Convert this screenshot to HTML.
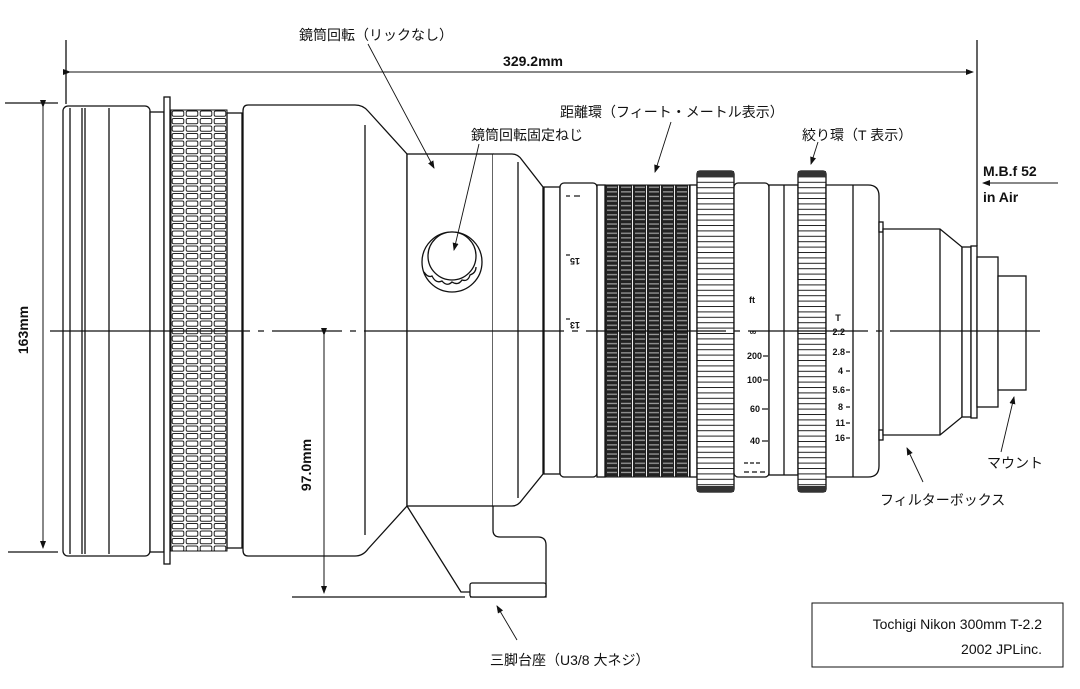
<!DOCTYPE html>
<html><head><meta charset="utf-8"><style>
html,body{margin:0;padding:0;background:#fff}
svg{display:block}
.j{font-family:"Liberation Sans","Noto Sans CJK JP",sans-serif;font-size:14px;fill:#111}
.b{font-family:"Liberation Sans",sans-serif;font-weight:bold;fill:#111}
.s{font-family:"Liberation Sans",sans-serif;font-weight:bold;font-size:9px;fill:#111}
</style></head><body>
<svg width="1080" height="689" viewBox="0 0 1080 689" xmlns="http://www.w3.org/2000/svg">
<defs>
<pattern id="k1" x="171" y="110" width="14" height="7.5" patternUnits="userSpaceOnUse">
<rect x="1.2" y="1" width="11.6" height="5.3" rx="1.5" fill="#fff" stroke="#222" stroke-width="1"/>
</pattern>
<pattern id="k2" x="605" y="185" width="14" height="4.6" patternUnits="userSpaceOnUse">
<rect width="14" height="4.6" fill="#222"/>
<rect x="2" y="1.6" width="10" height="1.3" fill="#999"/>
<rect x="13" y="0" width="1" height="4.6" fill="#eee"/>
</pattern>
<pattern id="k3" x="0" y="171" width="10" height="5.4" patternUnits="userSpaceOnUse">
<rect width="10" height="5.4" fill="#fff"/><line x1="0" y1="0.5" x2="10" y2="0.5" stroke="#222" stroke-width="1"/>
</pattern>
<marker id="ar" markerWidth="8" markerHeight="8" refX="7" refY="4" orient="auto" markerUnits="userSpaceOnUse"><path d="M0,1 L8,4 L0,7z" fill="#111"/></marker>
</defs>
<g fill="none" stroke="#111" stroke-width="1.3">
<line x1="66" y1="40" x2="66" y2="104"/>
<line x1="977" y1="40" x2="977" y2="246"/>
<line x1="70" y1="72" x2="973" y2="72" marker-start="url(#ar)" marker-end="url(#ar)" stroke-width="1"/>
<line x1="5" y1="103" x2="58" y2="103"/>
<line x1="8" y1="552" x2="58" y2="552"/>
<line x1="43" y1="107" x2="43" y2="548" marker-start="url(#ar)" marker-end="url(#ar)" stroke-width="1"/>
<!-- front hood -->
<rect x="63" y="106" width="87" height="450" rx="5" fill="#fff"/>
<line x1="70" y1="108" x2="70" y2="554"/><line x1="82" y1="108" x2="82" y2="554"/>
<line x1="85" y1="108" x2="85" y2="554"/><line x1="109" y1="108" x2="109" y2="554"/>
<rect x="150" y="112" width="14" height="440" fill="#fff"/>
<rect x="164" y="97" width="6" height="467" fill="#fff"/>
<rect x="171" y="110" width="56" height="441" fill="url(#k1)" stroke-width="1"/>
<rect x="227" y="113" width="15" height="435" fill="#fff"/>
<!-- main barrel -->
<path d="M248,105 L355,105 Q363,105 368,111 L407,154 L407,506 L368,549 Q363,556 355,556 L248,556 Q243,556 243,550 L243,111 Q243,105 248,105z" fill="#fff"/>
<line x1="365" y1="125" x2="365" y2="535"/>
<!-- collar -->
<rect x="407" y="154" width="86" height="352" fill="#fff"/>
<path d="M493,154 L512,154 Q518,154 522,160 L543,187 L543,474 L522,500 Q518,506 512,506 L493,506" fill="#fff"/>
<line x1="518" y1="162" x2="518" y2="498"/>
<!-- tripod foot -->
<path d="M407,506 L461,592 L470,592"/>
<path d="M493,506 L493,530 Q493,537 500,537 L538,537 Q546,537 546,545 L546,597 L470,597"/>
<rect x="470" y="583" width="76" height="14" rx="2" fill="#fff"/>
<!-- knob -->
<circle cx="452" cy="262" r="30" fill="#fff"/>
<circle cx="452" cy="256" r="24" fill="#fff"/>
<path d="M424,272 q4,6 8,4 q4,8 10,5 q5,6 10,1 q6,4 10,-2 q6,2 8,-5 q6,-2 6,-8" fill="none"/>
<!-- 97 dimension on top -->
<line x1="292" y1="597" x2="465" y2="597"/>
<line x1="324" y1="335" x2="324" y2="593" marker-start="url(#ar)" marker-end="url(#ar)" stroke-width="1"/>
<!-- rear section -->
<rect x="544" y="187" width="16" height="287" fill="#fff"/>
<rect x="560" y="183" width="37" height="294" rx="4" fill="#fff"/>
<rect x="597" y="185" width="8" height="292" fill="#fff"/>
<rect x="605" y="185" width="85" height="292" fill="url(#k2)" stroke-width="1"/>
<rect x="690" y="185" width="7" height="292" fill="#fff"/>
<rect x="697" y="171" width="37" height="321" rx="3" fill="url(#k3)"/>
<rect x="697" y="171" width="37" height="6" fill="#333" stroke="none"/>
<rect x="697" y="486" width="37" height="6" fill="#333" stroke="none"/>
<rect x="734" y="183" width="35" height="294" rx="4" fill="#fff"/>
<rect x="769" y="185" width="29" height="290" fill="#fff"/>
<line x1="784" y1="185" x2="784" y2="475"/>
<rect x="798" y="171" width="28" height="321" rx="3" fill="url(#k3)"/>
<rect x="798" y="171" width="28" height="6" fill="#333" stroke="none"/>
<rect x="798" y="486" width="28" height="6" fill="#333" stroke="none"/>
<path d="M826,185 L868,185 Q879,185 879,196 L879,466 Q879,477 868,477 L826,477z" fill="#fff"/>
<line x1="853" y1="185" x2="853" y2="477"/>
<rect x="879" y="222" width="4" height="10" fill="#fff"/>
<rect x="879" y="430" width="4" height="10" fill="#fff"/>
<path d="M883,229 L940,229 L962,247 L962,417 L940,435 L883,435z" fill="#fff"/>
<line x1="940" y1="229" x2="940" y2="435"/>
<rect x="962" y="247" width="9" height="170" fill="#fff"/>
<rect x="971" y="246" width="6" height="172" fill="#fff"/>
<rect x="977" y="257" width="21" height="150" fill="#fff"/>
<rect x="998" y="276" width="28" height="114" fill="#fff"/>
<g stroke-width="1.2">
<line x1="566" y1="196" x2="570" y2="196"/><line x1="574" y1="196" x2="580" y2="196"/>
<line x1="566" y1="255" x2="570" y2="255"/><line x1="566" y1="319" x2="570" y2="319"/>
<line x1="763" y1="356" x2="768" y2="356"/><line x1="763" y1="380" x2="768" y2="380"/>
<line x1="762" y1="409" x2="768" y2="409"/><line x1="762" y1="441" x2="768" y2="441"/>
<line x1="744" y1="463" x2="760" y2="463" stroke-dasharray="4 2"/><line x1="744" y1="472" x2="768" y2="472" stroke-dasharray="5 3"/>
<line x1="846" y1="352" x2="850" y2="352"/><line x1="846" y1="371" x2="850" y2="371"/>
<line x1="846" y1="390" x2="850" y2="390"/><line x1="846" y1="407" x2="850" y2="407"/>
<line x1="846" y1="423" x2="850" y2="423"/><line x1="846" y1="438" x2="850" y2="438"/>
</g>
<line x1="50" y1="331" x2="1045" y2="331" stroke-width="1.2" stroke-dasharray="200 8 6 8 70 8 6 8 200 8 6 8 140 8 6 8 120 8 6 8 150 8"/>
<line x1="1058" y1="183" x2="983" y2="183" marker-end="url(#ar)" stroke-width="1"/>
<g stroke-width="0.9">
<line x1="368" y1="44" x2="434" y2="168" marker-end="url(#ar)"/>
<line x1="479" y1="144" x2="454" y2="250" marker-end="url(#ar)"/>
<line x1="671" y1="122" x2="655" y2="172" marker-end="url(#ar)"/>
<line x1="818" y1="142" x2="811" y2="164" marker-end="url(#ar)"/>
<line x1="1001" y1="452" x2="1014" y2="397" marker-end="url(#ar)"/>
<line x1="923" y1="482" x2="907" y2="448" marker-end="url(#ar)"/>
<line x1="517" y1="640" x2="497" y2="606" marker-end="url(#ar)"/>
</g>
<rect x="812" y="603" width="251" height="64" stroke-width="1"/>
</g>
<text class="j" x="299" y="40">鏡筒回転（リックなし）</text>
<text class="b" x="533" y="66" font-size="14" text-anchor="middle">329.2mm</text>
<text class="j" x="560" y="117">距離環（フィート・メートル表示）</text>
<text class="j" x="471" y="140">鏡筒回転固定ねじ</text>
<text class="j" x="802" y="140">絞り環（T 表示）</text>
<text class="b" x="983" y="176" font-size="14">M.B.f  52</text>
<text class="b" x="983" y="202" font-size="14">in Air</text>
<text class="j" x="987" y="468">マウント</text>
<text class="j" x="880" y="505">フィルターボックス</text>
<text class="j" x="490" y="665">三脚台座（U3/8 大ネジ）</text>
<text class="b" font-size="14" transform="translate(28,330) rotate(-90)" text-anchor="middle">163mm</text>
<text class="b" font-size="14" transform="translate(311,465) rotate(-90)" text-anchor="middle">97.0mm</text>
<text class="s" transform="translate(575,258) rotate(180)" text-anchor="middle">15</text>
<text class="s" transform="translate(575,322) rotate(180)" text-anchor="middle">13</text>
<text class="s" x="752" y="303" text-anchor="middle">ft</text>
<text class="s" x="753" y="335" text-anchor="middle">∞</text>
<text class="s" x="762" y="359" text-anchor="end">200</text>
<text class="s" x="762" y="383" text-anchor="end">100</text>
<text class="s" x="760" y="412" text-anchor="end">60</text>
<text class="s" x="760" y="444" text-anchor="end">40</text>
<text class="s" x="838" y="321" text-anchor="middle">T</text>
<text class="s" x="845" y="335" text-anchor="end">2.2</text>
<text class="s" x="845" y="355" text-anchor="end">2.8</text>
<text class="s" x="843" y="374" text-anchor="end">4</text>
<text class="s" x="845" y="393" text-anchor="end">5.6</text>
<text class="s" x="843" y="410" text-anchor="end">8</text>
<text class="s" x="845" y="426" text-anchor="end">11</text>
<text class="s" x="845" y="441" text-anchor="end">16</text>
<text x="1042" y="629" text-anchor="end" style="font-family:'Liberation Sans',sans-serif;font-size:14px;fill:#111">Tochigi Nikon 300mm T-2.2</text>
<text x="1042" y="654" text-anchor="end" style="font-family:'Liberation Sans',sans-serif;font-size:14px;fill:#111">2002 JPLinc.</text>
</svg>
</body></html>
